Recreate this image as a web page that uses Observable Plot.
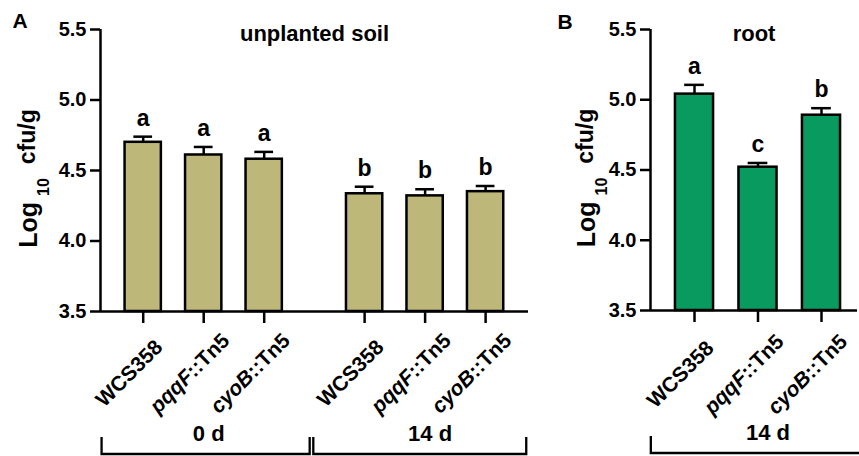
<!DOCTYPE html>
<html><head><meta charset="utf-8">
<script src="https://cdn.jsdelivr.net/npm/d3@7"></script>
<script src="https://cdn.jsdelivr.net/npm/@observablehq/plot@0.6"></script>
<style>
body{margin:0;background:#fff;}
#chart{display:flex;width:859px;height:456px;overflow:hidden;}
</style></head><body><div id="chart"></div>
<script>
// ---- data ----
const strains = ["WCS358", "pqqF::Tn5", "cyoB::Tn5"];
const soilDays = ["0 d", "14 d"];
const soilMean = [4.70, 4.61, 4.58, 4.335, 4.32, 4.35];
const soilSem = [0.04, 0.057, 0.052, 0.05, 0.047, 0.04];
const soilLetters = ["a", "a", "a", "b", "b", "b"];
const rootDays = ["14 d"];
const rootMean = [5.04, 4.52, 4.89];
const rootSem = [0.066, 0.03, 0.05];
const rootLetters = ["a", "c", "b"];
const yTicks = [3.5, 4.0, 4.5, 5.0, 5.5];
const yTitleParts = ["Log", "10", "cfu/g"];
const panelTitles = ["unplanted soil", "root"];
const panelTags = ["A", "B"];

// ---- layout / style ----
const soilColor = "#BEB77A", rootColor = "#089A5E";
const groupStep = 3.66, barHalf = 0.3, capHalf = 0.155;
const base = yTicks[0];
const SW = 2.5;

function buildRows(days, mean, sem, letters) {
  const rows = [];
  days.forEach((day, gi) => strains.forEach((s, si) => {
    const k = gi * strains.length + si;
    rows.push({day, strain: s, pos: gi * groupStep + si, mean: mean[k], sem: sem[k], letter: letters[k]});
  }));
  return rows;
}
function buildGroups(days, x1s, x2s) {
  return days.map((day, gi) => ({day, center: gi * groupStep + 1, x1: x1s[gi], x2: x2s[gi]}));
}

function bracket(groups) {
  return (index, scales, values, dimensions) => {
    const g = d3.create("svg:g").attr("stroke", "black").attr("stroke-width", 2.3).attr("fill", "none");
    const b = dimensions.height - dimensions.marginBottom;
    for (const gr of groups) {
      const a = scales.x(gr.x1), c = scales.x(gr.x2);
      g.append("path").attr("d", `M${a},${b + 126}V${b + 143}H${c}V${b + 126}`);
    }
    return g.node();
  };
}

const NS = "http://www.w3.org/2000/svg";
function fixTexts(svg) {
  svg.querySelectorAll("text").forEach(t => {
    const s = t.textContent;
    if (s.includes("::")) {
      const [it, rest] = s.split("::");
      t.textContent = "";
      const a = document.createElementNS(NS, "tspan");
      a.setAttribute("font-style", "italic");
      a.textContent = it;
      t.append(a, "::" + rest);
    } else if (s === yTitleParts.join(" ")) {
      t.textContent = "";
      const p0 = document.createElementNS(NS, "tspan");
      p0.setAttribute("font-size", 25); p0.textContent = yTitleParts[0];
      const p1 = document.createElementNS(NS, "tspan");
      p1.setAttribute("font-size", 16); p1.setAttribute("dy", 12); p1.setAttribute("dx", 6); p1.textContent = yTitleParts[1];
      const p2 = document.createElementNS(NS, "tspan");
      p2.setAttribute("font-size", 23); p2.setAttribute("dy", -14); p2.setAttribute("dx", 14); p2.textContent = yTitleParts[2];
      t.append(p0, p1, p2);
    }
  });
}

function makePanel(cfg) {
  const {rows, groups} = cfg;
  const svg = Plot.plot({
    width: cfg.width, height: 456,
    marginLeft: cfg.marginLeft, marginRight: cfg.marginRight,
    marginTop: 29, marginBottom: cfg.marginBottom,
    x: {domain: cfg.xDomain, label: null},
    y: {domain: [yTicks[0], yTicks[yTicks.length - 1]], label: null},
    style: {fontFamily: "'Liberation Sans', Arial, sans-serif", fontWeight: "bold", background: "white", color: "black", overflow: "visible"},
    marks: [
      Plot.rectY(rows, {x1: d => d.pos - barHalf, x2: d => d.pos + barHalf, y1: base, y2: "mean", fill: cfg.color, stroke: "black", strokeWidth: SW}),
      Plot.ruleX(rows, {x: "pos", y1: "mean", y2: d => d.mean + d.sem, stroke: "black", strokeWidth: SW}),
      Plot.ruleY(rows, {y: d => d.mean + d.sem, x1: d => d.pos - capHalf, x2: d => d.pos + capHalf, stroke: "black", strokeWidth: SW}),
      Plot.text(rows, {x: "pos", y: d => d.mean + d.sem, text: "letter", lineAnchor: "bottom", dy: -11, fontSize: 23}),
      Plot.ruleY([base], {stroke: "black", strokeWidth: SW}),
      Plot.ruleX([cfg.xDomain[0]], {stroke: "black", strokeWidth: SW}),
      Plot.axisY(yTicks, {tickSize: 10, tickPadding: 4, tickFormat: d3.format(".1f"), fontSize: 20, strokeWidth: SW, label: null}),
      Plot.axisX(rows.map(d => d.pos), {tickSize: 12, tickFormat: () => "", strokeWidth: SW, label: null}),
      Plot.text(rows, {x: "pos", text: "strain", frameAnchor: "bottom", rotate: -45, textAnchor: "middle", lineAnchor: "middle", dx: -14, dy: cfg.labelDy, fontSize: 21}),
      Plot.text(groups, {x: "center", text: "day", frameAnchor: "bottom", lineAnchor: "bottom", dx: cfg.dayDx, dy: 129, fontSize: 22}),
      bracket(groups),
      Plot.text([cfg.title], {text: d => d, frameAnchor: "top", lineAnchor: "bottom", dy: 11, fontSize: 22}),
      Plot.text([cfg.tag], {text: d => d, frameAnchor: "top-left", textAnchor: "start", lineAnchor: "bottom", dx: cfg.tagDx, dy: cfg.tagDy, fontSize: 21}),
      Plot.text([yTitleParts.join(" ")], {text: d => d, frameAnchor: "left", rotate: -90, textAnchor: "middle", lineAnchor: "bottom", dx: cfg.titleDx, dy: 8, fontSize: 24})
    ]
  });
  fixTexts(svg);
  return svg;
}

const soilRows = buildRows(soilDays, soilMean, soilSem, soilLetters);
const gapMid = (2 + groupStep) / 2;
const soilGroups = buildGroups(soilDays, [-0.68, gapMid - 0.01], [gapMid - 0.07, groupStep + 2 + 0.68]);
const rootRows = buildRows(rootDays, rootMean, rootSem, rootLetters);
const rootGroups = buildGroups(rootDays, [-0.68], [3]);

const chart = document.getElementById("chart");
chart.append(makePanel({
  rows: soilRows, groups: soilGroups, color: soilColor, title: panelTitles[0], tag: panelTags[0],
  width: 540, marginLeft: 100, marginRight: 12, marginBottom: 145, xDomain: [-0.706, 6.369],
  labelDy: 62, dayDx: 5, tagDx: -88, tagDy: -2, titleDx: -64
}));
chart.append(makePanel({
  rows: rootRows, groups: rootGroups, color: rootColor, title: panelTitles[1], tag: panelTags[1],
  width: 319, marginLeft: 110, marginRight: 2, marginBottom: 146, xDomain: [-0.693, 2.567],
  labelDy: 64, dayDx: 10, tagDx: -93, tagDy: -1, titleDx: -56
}));
</script>
</body></html>
